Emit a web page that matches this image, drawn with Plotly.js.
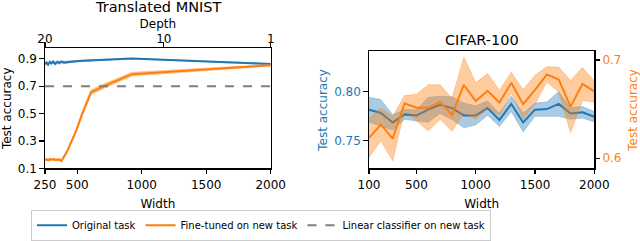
<!DOCTYPE html>
<html><head><meta charset="utf-8">
<script src="https://cdn.plot.ly/plotly-3.0.1.min.js"></script>
<style>html,body{margin:0;padding:0;background:#fff;} #chart{width:640px;height:241px;}</style>
</head><body><div id="chart"></div>
<script>
// ---- Translated MNIST ----
const mnistWidth = [250, 262, 274, 287, 300, 314, 329, 345, 361, 378, 398, 422, 452, 490, 539, 607, 714, 924, 2000];
const mnistOriginal = [0.862, 0.872, 0.857, 0.876, 0.866, 0.879, 0.863, 0.876, 0.869, 0.878, 0.872, 0.876, 0.879, 0.882, 0.885, 0.889, 0.892, 0.901, 0.862];
const mnistOriginalErr = [0.012, 0.010, 0.012, 0.010, 0.010, 0.012, 0.010, 0.010, 0.012, 0.010, 0.010, 0.008, 0.008, 0.006, 0.005, 0.004, 0.004, 0.003, 0.004];
const mnistFinetuned = [0.163, 0.166, 0.160, 0.167, 0.164, 0.168, 0.162, 0.166, 0.165, 0.155, 0.19, 0.225, 0.29, 0.37, 0.50, 0.655, 0.703, 0.787, 0.852];
const mnistFinetunedErr = [0.008, 0.008, 0.008, 0.008, 0.008, 0.008, 0.008, 0.008, 0.008, 0.010, 0.010, 0.010, 0.012, 0.012, 0.014, 0.018, 0.016, 0.014, 0.006];
const linearClassifier = 0.7;
const mnistWidthTicks = [250, 500, 1000, 1500, 2000];
const mnistAccTicks = [0.1, 0.3, 0.5, 0.7, 0.9];
const depthTicks = [20, 10, 1];

// ---- CIFAR-100 ----
const cifarWidth = [100, 200, 300, 400, 500, 600, 700, 800, 900, 1000, 1100, 1200, 1300, 1400, 1500, 1600, 1700, 1800, 1900, 2000];
const cifarOriginal = [0.7815, 0.7782, 0.7685, 0.7767, 0.7757, 0.7815, 0.7864, 0.7831, 0.7757, 0.7757, 0.7831, 0.7711, 0.7874, 0.7685, 0.7815, 0.7821, 0.7874, 0.7776, 0.7789, 0.7743];
const cifarOriginalErr = [0.0126, 0.0136, 0.0078, 0.0049, 0.0058, 0.0126, 0.0088, 0.0117, 0.0126, 0.0097, 0.0073, 0.0068, 0.0078, 0.0097, 0.0068, 0.0073, 0.0126, 0.0058, 0.0058, 0.0054];
const cifarFinetuned = [0.6206, 0.6343, 0.6199, 0.6559, 0.6513, 0.6513, 0.6572, 0.6441, 0.6745, 0.6581, 0.6686, 0.6565, 0.6768, 0.6549, 0.6696, 0.6853, 0.6800, 0.6525, 0.6755, 0.6679];
const cifarFinetunedErr = [0.0196, 0.0167, 0.0225, 0.0078, 0.0137, 0.0235, 0.0176, 0.0167, 0.0284, 0.0186, 0.0176, 0.0127, 0.0108, 0.0147, 0.0147, 0.0078, 0.0127, 0.0265, 0.0167, 0.0108];
const cifarWidthTicks = [100, 500, 1000, 1500, 2000];
const cifarOrigTicks = [0.75, 0.80];
const cifarFineTicks = [0.6, 0.7];

const BLUE = '#1f77b4', ORANGE = '#ff7f0e', GRAY = '#7f7f7f';
const BLUE_A = 'rgba(31,119,180,0.38)', ORANGE_A = 'rgba(255,127,14,0.40)';
const BLUE_E = 'rgba(31,119,180,0.25)', ORANGE_E = 'rgba(255,127,14,0.30)';
const W = 640, H = 241;
const px = v => v / W, py = v => 1 - v / H;
const FONT = 'DejaVu Sans, Liberation Sans, sans-serif';

function band(x, y, e, xa, ya, fill, edge) {
  const up = y.map((v, i) => v + e[i]);
  const lo = y.map((v, i) => v - e[i]);
  return {x: x.concat(x.slice().reverse()), y: up.concat(lo.reverse()), xaxis: xa, yaxis: ya,
    type: 'scatter', mode: 'lines', fill: 'toself', fillcolor: fill,
    line: {color: edge, width: 1}, hoverinfo: 'skip', showlegend: false};
}
function line(x, y, xa, ya, color, name, show, dash) {
  return {x: x, y: y, xaxis: xa, yaxis: ya, type: 'scatter', mode: 'lines', name: name,
    line: {color: color, width: 2, dash: dash || 'solid'}, showlegend: show};
}

const data = [
  band(mnistWidth, mnistOriginal, mnistOriginalErr, 'x', 'y', BLUE_A, BLUE_E),
  line(mnistWidth, mnistOriginal, 'x', 'y', BLUE, 'Original task', true),
  band(mnistWidth, mnistFinetuned, mnistFinetunedErr, 'x', 'y', ORANGE_A, ORANGE_E),
  line(mnistWidth, mnistFinetuned, 'x', 'y', ORANGE, 'Fine-tuned on new task', true),
  line([mnistWidth[0], mnistWidth[mnistWidth.length - 1]], [linearClassifier, linearClassifier], 'x', 'y', GRAY, 'Linear classifier on new task', true, 'dash'),
  {x: depthTicks, y: depthTicks.map(() => null), xaxis: 'x2', yaxis: 'y', type: 'scatter', mode: 'lines', showlegend: false, hoverinfo: 'skip'},
  band(cifarWidth, cifarOriginal, cifarOriginalErr, 'x3', 'y3', BLUE_A, BLUE_E),
  line(cifarWidth, cifarOriginal, 'x3', 'y3', BLUE, 'Original task', false),
  band(cifarWidth, cifarFinetuned, cifarFinetunedErr, 'x3', 'y4', ORANGE_A, ORANGE_E),
  line(cifarWidth, cifarFinetuned, 'x3', 'y4', ORANGE, 'Fine-tuned on new task', false)
];

const axBase = {showline: true, linecolor: '#000', linewidth: 1.2, ticks: 'outside', ticklen: 4.5,
  tickwidth: 1.2, tickcolor: '#000', showgrid: false, zeroline: false, fixedrange: true,
  tickfont: {family: FONT, size: 12, color: '#000'}};

const layout = {
  width: W, height: H, margin: {l: 0, r: 0, t: 0, b: 0},
  paper_bgcolor: '#fff', plot_bgcolor: '#fff',
  font: {family: FONT, size: 12, color: '#000'},
  xaxis: Object.assign({}, axBase, {domain: [px(45), px(270.7)], range: [250, 2000], anchor: 'y',
    tickvals: mnistWidthTicks, title: {text: 'Width', standoff: 9, font: {family: FONT, size: 12}}}),
  xaxis2: Object.assign({}, axBase, {overlaying: 'x', side: 'top', anchor: 'y', range: [20, 1],
    tickvals: depthTicks, ticklabelstandoff: -5, title: {text: 'Depth', standoff: 0, font: {family: FONT, size: 12}}}),
  yaxis: Object.assign({}, axBase, {domain: [py(175), py(50)], range: [0.1, 0.977], anchor: 'x',
    mirror: true, tickvals: mnistAccTicks, tickformat: '.1f',
    title: {text: 'Test accuracy', standoff: 5, font: {family: FONT, size: 12}}}),
  xaxis3: Object.assign({}, axBase, {domain: [px(369), px(594.3)], range: [100, 2000], anchor: 'y3',
    mirror: true, tickvals: cifarWidthTicks, title: {text: 'Width', standoff: 9, font: {family: FONT, size: 12}}}),
  yaxis3: Object.assign({}, axBase, {domain: [py(175), py(53.3)], range: [0.7216, 0.841], anchor: 'x3',
    side: 'left', tickvals: cifarOrigTicks, tickformat: '.2f',
    tickfont: {family: FONT, size: 12, color: BLUE},
    title: {text: 'Test accuracy', standoff: 4, font: {family: FONT, size: 12, color: BLUE}}}),
  yaxis4: Object.assign({}, axBase, {overlaying: 'y3', side: 'right', anchor: 'x3', range: [0.5895, 0.7088],
    tickvals: cifarFineTicks, tickformat: '.1f',
    tickfont: {family: FONT, size: 12, color: ORANGE},
    title: {text: 'Test accuracy', standoff: 8, font: {family: FONT, size: 12, color: ORANGE}}}),
  annotations: [
    {text: 'Translated MNIST', xref: 'paper', yref: 'paper', x: px(158), y: py(7), xanchor: 'center', yanchor: 'middle',
     showarrow: false, font: {family: FONT, size: 14.5, color: '#000'}},
    {text: 'CIFAR-100', xref: 'paper', yref: 'paper', x: px(481.7), y: py(41.7), xanchor: 'center', yanchor: 'middle',
     showarrow: false, font: {family: FONT, size: 14.5, color: '#000'}}
  ],
  showlegend: true,
  legend: {orientation: 'h', x: px(31), y: py(218), xanchor: 'left', yanchor: 'top',
    bordercolor: '#cccccc', borderwidth: 1, bgcolor: '#fff',
    font: {family: FONT, size: 10, color: '#000'}, traceorder: 'normal'}
};

Plotly.newPlot('chart', data, layout, {staticPlot: true, displayModeBar: false});
</script></body></html>
